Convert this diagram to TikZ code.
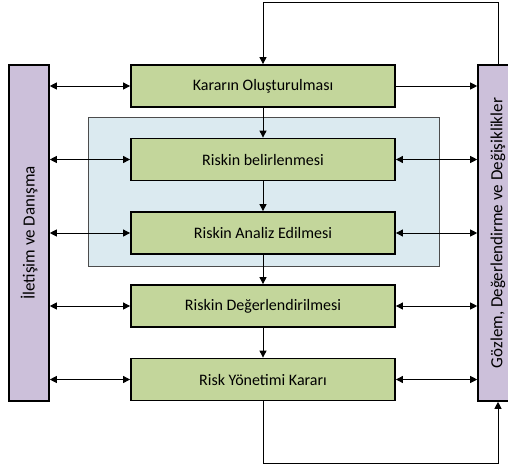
\documentclass[tikz,border=0pt]{standalone}
\usepackage{fontspec}
\setmainfont{Carlito}
\usetikzlibrary{arrows.meta}
\definecolor{stepgreen}{RGB}{195,214,155}
\definecolor{barpurple}{RGB}{204,192,218}
\definecolor{zoneblue}{RGB}{219,234,240}
\tikzset{
  stepbox/.style={draw=black, line width=1.8pt, fill=stepgreen, minimum width=264pt,
    minimum height=42pt, inner sep=0pt, font=\fontsize{16}{18}\selectfont},
  sidebar/.style={draw=black, line width=1.6pt, fill=barpurple, minimum width=40pt,
    minimum height=336pt, inner sep=0pt},
  bartext/.style={rotate=90, font=\fontsize{17}{19}\selectfont},
  onearrow/.style={line width=0.9pt, -{Triangle[length=7pt,width=7pt]}},
  twoarrow/.style={line width=0.9pt, {Triangle[length=7pt,width=7pt]}-{Triangle[length=7pt,width=7pt]}}
}
\begin{document}
\begin{tikzpicture}[x=1pt,y=-1pt]
  \clip (0,0) rectangle (508,469);
  \fill[white] (0,0) rectangle (508,469);

  % shaded zone around identification and analysis
  \node[draw=black!70, line width=0.7pt, fill=zoneblue, minimum width=351pt,
    minimum height=149pt, inner sep=0pt] (zone) at (263.5,191.5) {};

  % process steps
  \node[stepbox] (b1) at (263,86) {Kararın Oluşturulması};
  \node[stepbox] (b2) at (263,159.5) {Riskin belirlenmesi};
  \node[stepbox] (b3) at (263,233) {Riskin Analiz Edilmesi};
  \node[stepbox] (b4) at (263,306) {Riskin Değerlendirilmesi};
  \node[stepbox] (b5) at (263,379.5) {Risk Yönetimi Kararı};

  % side bars
  \node[sidebar] (lbar) at (29,233) {};
  \node[bartext] (ltext) at (lbar) {İletişim ve Danışma};
  \node[sidebar] (rbar) at (498,233) {};
  \node[bartext] (rtext) at (rbar) {Gözlem, Değerlendirme ve Değişiklikler};

  % flow between steps
  \draw[onearrow] (b1) -- (b2);
  \draw[onearrow] (b2) -- (b3);
  \draw[onearrow] (b3) -- (b4);
  \draw[onearrow] (b4) -- (b5);

  % links to the left bar
  \foreach \b in {b1,b2,b3,b4,b5}
    \draw[twoarrow] (lbar.east |- \b.west) -- (\b.west);

  % links to the right bar
  \draw[onearrow] (b1.east) -- (rbar.west |- b1.east);
  \foreach \b in {b2,b3,b4,b5}
    \draw[twoarrow] (\b.east) -- (rbar.west |- \b.east);

  % feedback loops
  \coordinate (tr) at (498,2);
  \coordinate (tl) at (263,2);
  \coordinate (bl) at (263,463);
  \coordinate (br) at (498,463);
  \draw[onearrow] (rbar.north) -- (tr) -- (tl) -- (b1.north);
  \draw[onearrow] (b5.south) -- (bl) -- (br) -- (rbar.south);
\end{tikzpicture}
\end{document}
